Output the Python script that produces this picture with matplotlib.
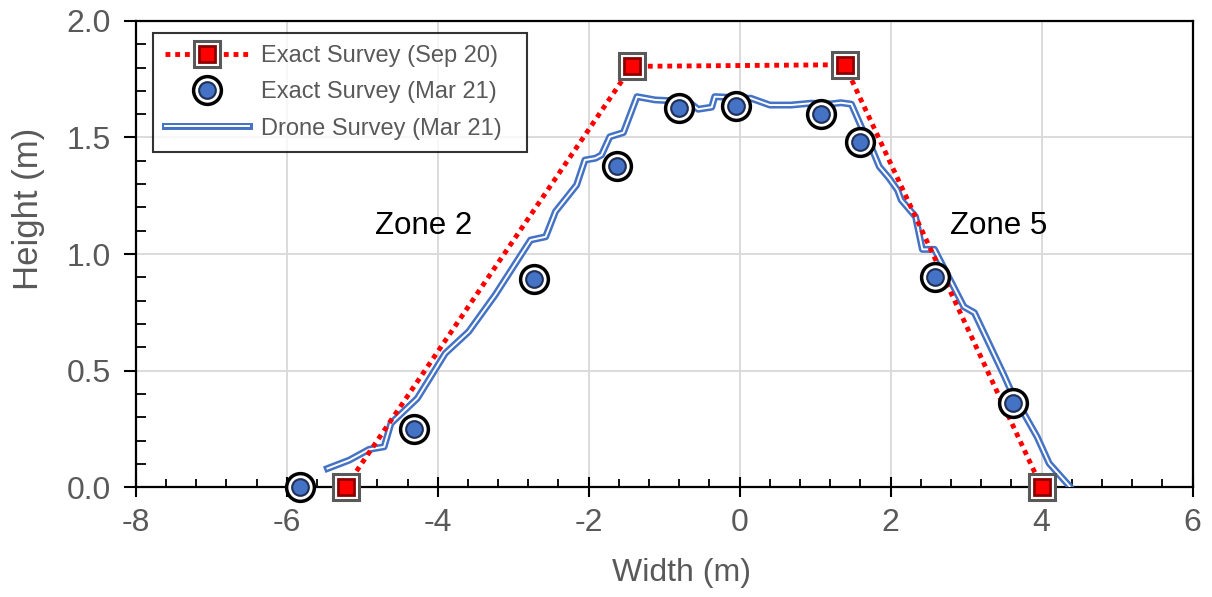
import matplotlib
matplotlib.use("Agg")
import matplotlib.pyplot as plt
import matplotlib.patheffects as pe
from matplotlib.ticker import MultipleLocator
from matplotlib.lines import Line2D

plt.rcParams['font.family'] = ['Liberation Sans', 'DejaVu Sans']

# Exact Survey (Sep 20)
sep_x = [-5.22, -1.43, 1.39, 4.0]
sep_y = [0.0, 1.805, 1.812, 0.0]

# Exact Survey (Mar 21)
mar_x = [-5.82, -4.31, -2.73, -1.62, -0.81, -0.05, 1.08, 1.60, 2.59, 3.62]
mar_y = [0.0, 0.249, 0.893, 1.378, 1.627, 1.635, 1.60, 1.48, 0.90, 0.36]

# Drone Survey (Mar 21)
drone_x = [-5.46, -5.17, -4.91, -4.71, -4.62, -4.27, -3.90, -3.59, -3.24, -2.77,
           -2.57, -2.44, -2.16, -2.05, -1.91, -1.83, -1.72, -1.54, -1.36, -1.12,
           -0.68, -0.55, -0.37, -0.33, 0.15, 0.40, 0.68, 0.95, 1.21, 1.34,
           1.48, 1.63, 1.74, 1.85, 1.98, 2.09, 2.14, 2.33, 2.42, 2.58,
           2.97, 3.11, 3.50, 3.59, 3.94, 4.10, 4.37]
drone_y = [0.080, 0.116, 0.162, 0.173, 0.273, 0.381, 0.574, 0.667, 0.824, 1.060,
           1.074, 1.182, 1.296, 1.403, 1.411, 1.425, 1.503, 1.521, 1.675, 1.661,
           1.654, 1.621, 1.630, 1.675, 1.668, 1.639, 1.639, 1.647, 1.644, 1.649,
           1.643, 1.532, 1.461, 1.375, 1.325, 1.275, 1.232, 1.160, 1.020, 1.020,
           0.774, 0.748, 0.481, 0.416, 0.216, 0.102, 0.004]

x_ticks = [-8, -6, -4, -2, 0, 2, 4, 6]
y_ticks = [0.0, 0.5, 1.0, 1.5, 2.0]
y_tick_labels = ['0.0', '0.5', '1.0', '1.5', '2.0']
legend_labels = ['Exact Survey (Sep 20)', 'Exact Survey (Mar 21)', 'Drone Survey (Mar 21)']

fig = plt.figure(figsize=(12.12, 5.97), dpi=100)
ax = fig.add_axes([0.112, 0.184, 0.872, 0.781])

blue = '#4472C4'
gray_txt = '#595959'

# Drone double line
ax.plot(drone_x, drone_y, color='white', lw=1.4, zorder=3,
        path_effects=[pe.Stroke(linewidth=5, foreground=blue), pe.Normal()])

# Sep 20 dotted line with square markers
ax.plot(sep_x, sep_y, color='red', lw=3.5, linestyle=(0, (1, 1)),
        dash_capstyle='butt', zorder=4)
ax.plot(sep_x, sep_y, linestyle='none', marker='s', markersize=19,
        markerfacecolor='white', markeredgecolor='#595959', markeredgewidth=2.2,
        zorder=5, clip_on=False)
ax.plot(sep_x, sep_y, linestyle='none', marker='s', markersize=12,
        markerfacecolor='red', markeredgecolor='#8B0000', markeredgewidth=2,
        zorder=6, clip_on=False)

# Mar 21 circles
ax.plot(mar_x, mar_y, linestyle='none', marker='o', markersize=20,
        markerfacecolor='white', markeredgecolor='black', markeredgewidth=2.5,
        zorder=5, clip_on=False)
ax.plot(mar_x, mar_y, linestyle='none', marker='o', markersize=12,
        markerfacecolor=blue, markeredgecolor='#1F2F55', markeredgewidth=1.5,
        zorder=6, clip_on=False)

# Legend proxies
h1a = Line2D([], [], color='red', lw=3.5, linestyle=(0, (1, 1)), dash_capstyle='butt')
h1b = Line2D([], [], linestyle='none', marker='s', markersize=19,
             markerfacecolor='white', markeredgecolor='#595959', markeredgewidth=2.2)
h1c = Line2D([], [], linestyle='none', marker='s', markersize=12,
             markerfacecolor='red', markeredgecolor='#8B0000', markeredgewidth=2)
h2a = Line2D([], [], linestyle='none', marker='o', markersize=20,
             markerfacecolor='white', markeredgecolor='black', markeredgewidth=2.5)
h2b = Line2D([], [], linestyle='none', marker='o', markersize=12,
             markerfacecolor=blue, markeredgecolor='#1F2F55', markeredgewidth=1.5)
h3 = Line2D([], [], color='white', lw=1.4,
            path_effects=[pe.Stroke(linewidth=5, foreground=blue), pe.Normal()])
leg = ax.legend([(h1a, h1b, h1c), (h2a, h2b), h3],
                [lab + '  ' for lab in legend_labels],
                loc='upper left', bbox_to_anchor=(0.016, 0.974),
                fontsize=17, frameon=True, fancybox=False, handlelength=3.55,
                handletextpad=0.5, borderpad=0.52, labelspacing=0.6,
                borderaxespad=0, edgecolor='black')
leg.get_frame().set_linewidth(1.5)
for t in leg.get_texts():
    t.set_color(gray_txt)
leg.set_zorder(10)

# Zone labels
ax.text(-4.83, 1.12, 'Zone 2', fontsize=22.5, color='black', va='center', ha='left')
ax.text(2.78, 1.12, 'Zone 5', fontsize=22.5, color='black', va='center', ha='left')

ax.set_xlim(-8, 6)
ax.set_ylim(0, 2.0)
ax.xaxis.set_minor_locator(MultipleLocator(0.4))
ax.yaxis.set_minor_locator(MultipleLocator(0.1))
ax.set_xticks(x_ticks)
ax.set_xticklabels([str(v) for v in x_ticks])
ax.set_yticks(y_ticks)
ax.set_yticklabels(y_tick_labels)

ax.grid(True, which='major', color='#D9D9D9', lw=1.3, zorder=0)
ax.set_axisbelow(True)

ax.tick_params(axis='x', which='major', direction='inout', length=14, width=1.5,
               labelsize=23, labelcolor=gray_txt, pad=8)
ax.tick_params(axis='x', which='minor', direction='in', length=6, width=1.3)
ax.tick_params(axis='y', which='major', direction='out', length=9, width=1.5,
               labelsize=23, labelcolor=gray_txt, pad=9)
ax.tick_params(axis='y', which='minor', direction='in', length=7, width=1.3)

for s in ax.spines.values():
    s.set_linewidth(1.6)
    s.set_color('black')

ax.set_xlabel('Width (m)', fontsize=23, color=gray_txt)
ax.xaxis.set_label_coords(0.516, -0.152)
ax.set_ylabel('Height (m)', fontsize=25, color=gray_txt)
ax.yaxis.set_label_coords(-0.086, 0.597)

fig.savefig('out.png', dpi=100)
